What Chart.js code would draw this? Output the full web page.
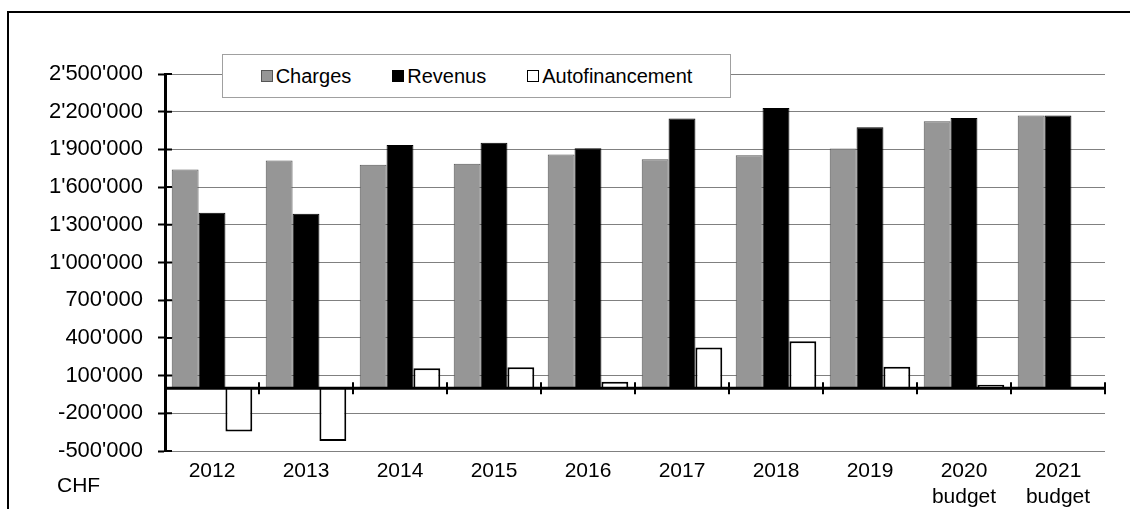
<!DOCTYPE html>
<html>
<head>
<meta charset="utf-8">
<script src="https://cdn.jsdelivr.net/npm/chart.js@4"></script>
<style>
  body { margin: 0; background: #fff; overflow: hidden; font-family: "Liberation Sans", Arial, sans-serif; }
  #cadre { position: absolute; left: 7px; top: 11px; width: 2000px; height: 1000px;
           border-left: 2px solid #000; border-top: 2px solid #000; }
  #zone { position: absolute; left: 0; top: 0; width: 1130px; height: 509px; }
  #legende { position: absolute; left: 222px; top: 54px; width: 509px; height: 44px; box-sizing: border-box;
             border: 1.5px solid #a0a0a0; background: #fff; display: flex; align-items: center;
             justify-content: center; gap: 41px; font-size: 20px; color: #000; }
  #legende .item { display: flex; align-items: center; gap: 3px; }
  #legende i { display: inline-block; width: 12px; height: 12px; box-sizing: border-box; border: 1px solid #000; }
  #unite { position: absolute; left: 57px; top: 474px; font-size: 21px; line-height: 21px; color: #000; }
</style>
</head>
<body>
<div id="cadre"></div>
<div id="zone"><canvas id="graphique"></canvas></div>
<div id="legende"></div>
<div id="unite">CHF</div>
<script>
// donnees (CHF)
var categories = ['2012', '2013', '2014', '2015', '2016', '2017', '2018', '2019', ['2020', 'budget'], ['2021', 'budget']]
var charges = [1741000, 1812000, 1777000, 1785000, 1860000, 1822000, 1854000, 1907000, 2124000, 2169000]
var revenus = [1396000, 1388000, 1936000, 1952000, 1910000, 2145000, 2229000, 2076000, 2150000, 2169000]
var autofinancement = [-345000, -420000, 159000, 167000, 51000, 324000, 374000, 170000, 28000, 0]
var yTicks = [-500000, -200000, 100000, 400000, 700000, 1000000, 1300000, 1600000, 1900000, 2200000, 2500000]

var police = '"Liberation Sans", Arial, sans-serif'

function formatCHF(v){
    // 2500000 -> 2'500'000
    return String(v).replace(/\B(?=(\d{3})+(?!\d))/g, "'")
}

// axe horizontal a zero avec ses graduations entre les categories
var axeZero = {
    id: 'axeZero',
    afterDatasetsDraw: function(chart){
        var ctx = chart.ctx
        var area = chart.chartArea
        var x = chart.scales.x
        var y = chart.scales.y
        var y0 = y.getPixelForValue(0)
        var pas = x.getPixelForValue(1) - x.getPixelForValue(0)
        ctx.save()
        ctx.strokeStyle = '#000'
        ctx.lineWidth = 3
        ctx.beginPath()
        ctx.moveTo(area.left, y0)
        ctx.lineTo(area.right, y0)
        ctx.stroke()
        ctx.lineWidth = 2
        ctx.beginPath()
        categories.forEach(function(c, i){
            var xb = x.getPixelForValue(i) + pas / 2
            ctx.moveTo(xb, y0 - 6)
            ctx.lineTo(xb, y0 + 6)
        })
//      partie interieure des graduations de l'axe vertical
        y.ticks.forEach(function(t){
            var yp = y.getPixelForValue(t.value)
            ctx.moveTo(area.left, yp)
            ctx.lineTo(area.left + 7, yp)
        })
        ctx.stroke()
        ctx.restore()
    }
}

var chart = new Chart(document.getElementById('graphique').getContext('2d'), {
    type: 'bar',
    data: {
        labels: categories,
        datasets: [{
            label: 'Charges',
            data: charges,
            backgroundColor: '#969696',
            borderColor: '#555555',
            borderWidth: 1
        }, {
            label: 'Revenus',
            data: revenus,
            backgroundColor: '#000000',
            borderColor: '#000000',
            borderWidth: 1
        }, {
            label: 'Autofinancement',
            data: autofinancement,
            backgroundColor: '#ffffff',
            borderColor: '#000000',
            borderWidth: 2
        }]
    },
    options: {
        responsive: true,
        maintainAspectRatio: false,
        animation: false,
        datasets: {
            bar: { barPercentage: 1.0, categoryPercentage: 0.857 }
        },
        layout: { padding: { top: 74, right: 25, left: 0, bottom: 0 } },
        plugins: {
            legend: { display: false },
            tooltip: { enabled: false }
        },
        scales: {
            x: {
                grid: { display: false, drawTicks: false },
                border: { display: false },
                ticks: {
                    color: '#000',
                    font: { family: police, size: 21, lineHeight: 1.2 },
                    padding: 8,
                    maxRotation: 0,
                    autoSkip: false
                },
                afterFit: function(scale){ scale.height = 58 }
            },
            y: {
                min: -500000,
                max: 2500000,
                afterBuildTicks: function(scale){
                    scale.ticks = yTicks.map(function(v){ return { value: v } })
                },
                grid: {
                    color: '#808080',
                    lineWidth: 1,
                    drawTicks: true,
                    tickLength: 7,
                    tickColor: '#000',
                    tickWidth: 2
                },
                border: { display: true, color: '#000', width: 3 },
                ticks: {
                    color: '#000',
                    font: { family: police, size: 22 },
                    padding: 15,
                    callback: function(v){ return formatCHF(v) }
                },
                afterFit: function(scale){ scale.width = 165 }
            }
        }
    },
    plugins: [axeZero]
})

// legende en html, construite depuis les series du graphique
var legende = document.getElementById('legende')
chart.data.datasets.forEach(function(ds){
    var item = document.createElement('span')
    item.className = 'item'
    var carre = document.createElement('i')
    carre.style.background = ds.backgroundColor
    carre.style.borderColor = ds.borderColor
    var texte = document.createElement('span')
    texte.textContent = ds.label
    item.appendChild(carre)
    item.appendChild(texte)
    legende.appendChild(item)
})
</script>
</body>
</html>
